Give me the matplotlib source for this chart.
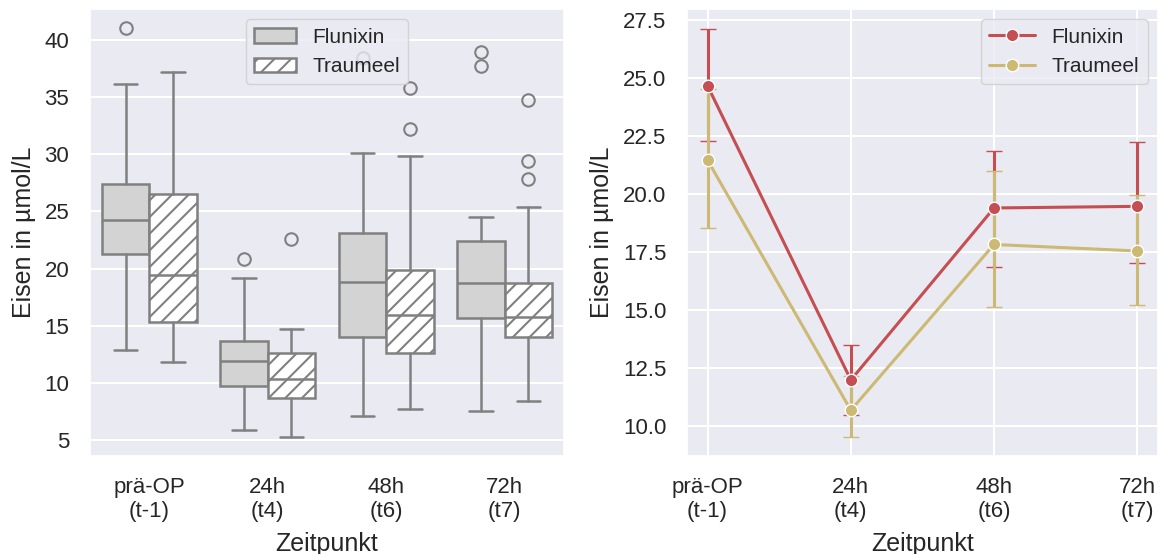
import matplotlib
matplotlib.use("Agg")
import matplotlib.pyplot as plt
import seaborn as sns
from matplotlib.patches import Patch
from matplotlib.lines import Line2D

sns.set_theme(style="darkgrid")
plt.rcParams["font.family"] = ["Liberation Sans", "DejaVu Sans"]
plt.rcParams["hatch.color"] = "gray"
plt.rcParams["hatch.linewidth"] = 1.5
plt.rcParams["xtick.labelsize"] = 16
plt.rcParams["ytick.labelsize"] = 16
plt.rcParams["axes.labelsize"] = 18
plt.rcParams["xtick.major.size"] = 0
plt.rcParams["ytick.major.size"] = 0
plt.rcParams["xtick.major.pad"] = 15
plt.rcParams["ytick.major.pad"] = 15
plt.rcParams["grid.linewidth"] = 1.5

zeitpunkte = ["prä-OP\n(t-1)", "24h\n(t4)", "48h\n(t6)", "72h\n(t7)"]
gruppen = ["Flunixin", "Traumeel"]

# Boxplot-Kennwerte
flu_q1 = [21.3, 9.7, 14.0, 15.7]
flu_med = [24.2, 11.9, 18.8, 18.7]
flu_q3 = [27.4, 13.65, 23.15, 22.45]
flu_wlo = [12.9, 5.85, 7.1, 7.5]
flu_whi = [36.1, 19.2, 30.1, 24.5]
flu_out = [[41.0], [20.85], [38.4], [38.9, 37.7]]

tra_q1 = [15.3, 8.65, 12.65, 14.05]
tra_med = [19.4, 10.3, 15.9, 15.75]
tra_q3 = [26.55, 12.65, 19.9, 18.75]
tra_wlo = [11.85, 5.25, 7.75, 8.45]
tra_whi = [37.2, 14.7, 29.85, 25.4]
tra_out = [[], [22.55], [35.8, 32.2], [34.75, 29.4, 27.8]]

# Mittelwerte und Fehlerbalken
flu_mean = [24.65, 12.0, 19.4, 19.47]
flu_err_lo = [22.3, 10.5, 16.85, 17.05]
flu_err_hi = [27.1, 13.5, 21.85, 22.25]
tra_mean = [21.45, 10.7, 17.83, 17.55]
tra_err_lo = [18.55, 9.55, 15.12, 15.22]
tra_err_hi = [24.5, 12.18, 21.0, 19.95]

fig = plt.figure(figsize=(11.63, 5.54), dpi=100)
ax1 = fig.add_axes([90 / 1163, 1 - 456 / 554, 474 / 1163, 447 / 554])
ax2 = fig.add_axes([687 / 1163, 1 - 456 / 554, 471 / 1163, 447 / 554])

# linke Grafik: Boxplots
def stats(q1, med, q3, lo, hi, out):
    return [dict(q1=q1[i], med=med[i], q3=q3[i], whislo=lo[i], whishi=hi[i],
                 fliers=out[i]) for i in range(len(q1))]

w = 0.4
pos_flu = [i - w / 2 for i in range(4)]
pos_tra = [i + w / 2 for i in range(4)]
props = dict(color="gray", linewidth=1.8)
for st, pos, fc, hatch in [
    (stats(flu_q1, flu_med, flu_q3, flu_wlo, flu_whi, flu_out), pos_flu, "lightgray", None),
    (stats(tra_q1, tra_med, tra_q3, tra_wlo, tra_whi, tra_out), pos_tra, "white", "//"),
]:
    ax1.bxp(st, positions=pos, widths=w, patch_artist=True,
            showfliers=True, manage_ticks=False,
            boxprops=dict(facecolor=fc, edgecolor="gray", linewidth=1.8, hatch=hatch),
            medianprops=props, whiskerprops=props, capprops=props,
            flierprops=dict(marker="o", markerfacecolor="none",
                            markeredgecolor="gray", markersize=9, markeredgewidth=1.5))

ax1.set_xticks(range(4))
ax1.set_xticklabels(zeitpunkte)
ax1.set_xlim(-0.5, 3.5)
ax1.set_ylim(3.6, 42.7)
ax1.set_yticks([5, 10, 15, 20, 25, 30, 35, 40])
ax1.set_xlabel("Zeitpunkt", labelpad=7)
ax1.set_ylabel("Eisen in µmol/L", labelpad=6)
ax1.grid(axis="x", visible=False)
handles = [Patch(facecolor="lightgray", edgecolor="gray", linewidth=1.8, label="Flunixin"),
           Patch(facecolor="white", edgecolor="gray", linewidth=1.8, hatch="//", label="Traumeel")]
ax1.legend(handles=handles, loc="upper center", bbox_to_anchor=(0.5, 1.0),
           handlelength=2.0, fontsize=15)

# rechte Grafik: Mittelwerte mit Fehlerbalken
x = list(range(4))
farben = [sns.color_palette("deep")[3], sns.color_palette("deep")[8]]
for mean, lo, hi, col in [
    (flu_mean, flu_err_lo, flu_err_hi, farben[0]),
    (tra_mean, tra_err_lo, tra_err_hi, farben[1]),
]:
    yerr = [[m - l for m, l in zip(mean, lo)], [h - m for m, h in zip(mean, hi)]]
    ax2.errorbar(x, mean, yerr=yerr, color=col, linewidth=2.2, capsize=6,
                 capthick=2.2, marker="o", markersize=9, markeredgecolor="white",
                 markeredgewidth=1)

ax2.set_xticks(x)
ax2.set_xticklabels(zeitpunkte)
ax2.set_xlim(-0.144, 3.145)
ax2.set_ylim(8.73, 27.96)
ax2.set_yticks([10.0, 12.5, 15.0, 17.5, 20.0, 22.5, 25.0, 27.5])
ax2.set_xlabel("Zeitpunkt", labelpad=7)
ax2.set_ylabel("Eisen in µmol/L", labelpad=6)
handles2 = [Line2D([0], [0], color=c, linewidth=2.2, marker="o", markersize=9,
                   markeredgecolor="white", label=g) for c, g in zip(farben, gruppen)]
ax2.legend(handles=handles2, loc="upper right", fontsize=15, handlelength=2.2)

fig.savefig("out.png", dpi=100)
